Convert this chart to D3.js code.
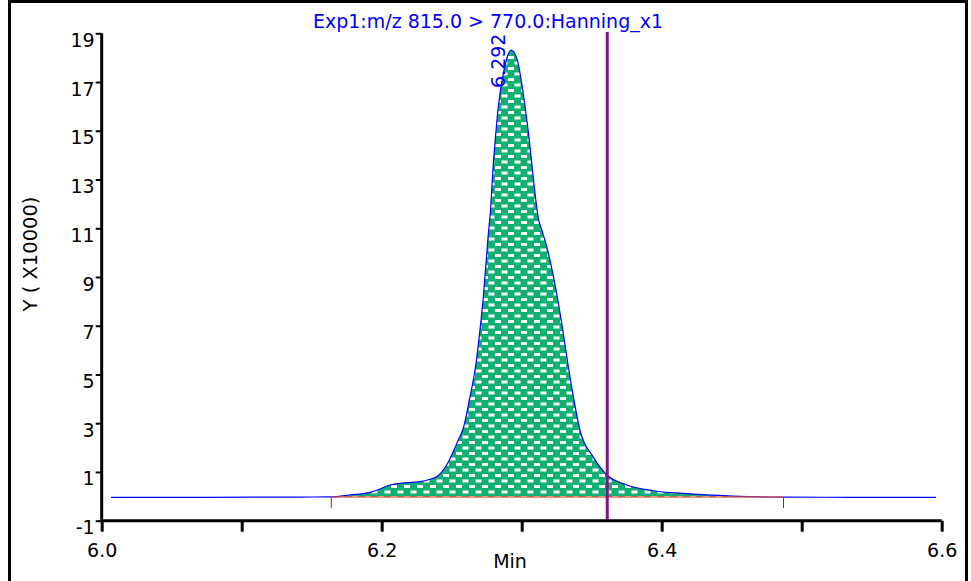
<!DOCTYPE html>
<html>
<head>
<meta charset="utf-8">
<script src="https://cdn.jsdelivr.net/npm/d3@7/dist/d3.min.js"></script>
<style>
  html, body { margin: 0; padding: 0; background: #ffffff; }
  svg { display: block; }
  text { font-family: "DejaVu Sans", sans-serif; }
</style>
</head>
<body>
<svg id="chart" width="971" height="581"></svg>
<script>
// Chromatogram trace: retention time (min) and intensity (x10000)
const times = [6.0067, 6.070, 6.142, 6.164, 6.177, 6.1916, 6.1988, 6.2059, 6.2131, 6.2274,
  6.2345, 6.2393, 6.2464, 6.2511, 6.2547, 6.2579, 6.2631, 6.2674, 6.2702, 6.2726,
  6.2745, 6.2761, 6.2779, 6.2793, 6.2811, 6.2833, 6.2869, 6.2924, 6.2969, 6.2988,
  6.3024, 6.3054, 6.3079, 6.3107, 6.3121, 6.3143, 6.3179, 6.3207, 6.3254, 6.3293,
  6.3329, 6.3369, 6.3416, 6.3509, 6.3609, 6.3752, 6.3938, 6.4152, 6.4509, 6.487,
  6.5345, 6.5959];
const intensity = [-0.04, -0.04, -0.03, -0.02, 0.055, 0.165, 0.30, 0.465, 0.535, 0.60,
  0.70, 0.805, 1.285, 1.83, 2.31, 2.72, 4.09, 5.47, 6.83, 8.19,
  9.57, 10.72, 11.88, 13.27, 14.62, 15.99, 17.36, 18.31, 17.90, 17.36,
  15.99, 14.62, 13.27, 11.88, 11.34, 10.94, 10.24, 9.56, 8.19, 6.83,
  5.47, 4.09, 2.72, 1.63, 0.875, 0.465, 0.23, 0.12, 0.01, -0.03,
  -0.04, -0.04];

// Integration window and baseline
const peakStart = 6.164;
const peakEnd = 6.487;
const baselineValue = -0.03;
const apexTime = 6.2924;
const apexLabel = "6.292";
const markerTime = 6.3611;

// Axis ticks
const xTicks = [6.0, 6.1, 6.2, 6.3, 6.4, 6.5, 6.6];
const xTickLabels = ["6.0", "", "6.2", "", "6.4", "", "6.6"];
const yTicks = [-1, 1, 3, 5, 7, 9, 11, 13, 15, 17, 19];
const yTickLabels = ["-1", "1", "3", "5", "7", "9", "11", "13", "15", "17", "19"];

const titleText = "Exp1:m/z 815.0 > 770.0:Hanning_x1";
const xTitle = "Min";
const yTitle = "Y ( X10000)";

const svg = d3.select("#chart");

const x = d3.scaleLinear().domain([6.0, 6.6]).range([101.7, 941.7]);
const y = d3.scaleLinear().domain([-1, 19]).range([520.7, 33.3]);

const pts = times.map((t, i) => ({ t, v: intensity[i] }));

// Fill pattern: green with white dashes
const defs = svg.append("defs");
const pat = defs.append("pattern")
  .attr("id", "dash")
  .attr("patternUnits", "userSpaceOnUse")
  .attr("width", 13).attr("height", 11);
pat.append("rect").attr("width", 13).attr("height", 11).attr("fill", "#10b070");
pat.append("rect").attr("x", 1).attr("y", 1).attr("width", 6).attr("height", 3).attr("fill", "#ffffff");
pat.append("rect").attr("x", 7.5).attr("y", 6.5).attr("width", 6).attr("height", 3).attr("fill", "#ffffff");
pat.append("rect").attr("x", -5.5).attr("y", 6.5).attr("width", 6).attr("height", 3).attr("fill", "#ffffff");

// Outer frame
svg.append("rect")
  .attr("x", 9.5).attr("y", 1.5).attr("width", 957).attr("height", 620)
  .attr("fill", "none").attr("stroke", "#000").attr("stroke-width", 3);

// Integrated peak area
const inPeak = pts.filter(d => d.t >= peakStart && d.t <= peakEnd);
const area = d3.area()
  .x(d => x(d.t))
  .y0(y(baselineValue))
  .y1(d => y(d.v))
  .curve(d3.curveMonotoneX);
svg.append("path").datum(inPeak)
  .attr("d", area)
  .attr("fill", "url(#dash)");

// Trace
const line = d3.line()
  .x(d => x(d.t))
  .y(d => y(d.v))
  .curve(d3.curveMonotoneX);
svg.append("path").datum(pts)
  .attr("d", line)
  .attr("fill", "none")
  .attr("stroke", "#0000ff")
  .attr("stroke-width", 1.2);

// Baseline and integration markers
svg.append("line")
  .attr("x1", x(peakStart)).attr("x2", x(peakEnd))
  .attr("y1", y(baselineValue)).attr("y2", y(baselineValue))
  .attr("stroke", "#e8503a").attr("stroke-width", 1.5).attr("stroke-opacity", 0.85);
[peakStart, peakEnd].forEach(t => {
  svg.append("line")
    .attr("x1", x(t)).attr("x2", x(t))
    .attr("y1", y(baselineValue)).attr("y2", y(baselineValue) + 11)
    .attr("stroke", "#ff0000").attr("stroke-width", 1);
});

// Apex retention time label
svg.append("text")
  .attr("transform", `translate(${x(apexTime) - 6},88) rotate(-90)`)
  .attr("fill", "#0000ff")
  .attr("font-size", 19)
  .text(apexLabel);

// Cursor line
svg.append("line")
  .attr("x1", x(markerTime)).attr("x2", x(markerTime))
  .attr("y1", 32).attr("y2", y(-1))
  .attr("stroke", "#80128a").attr("stroke-width", 3);

// X axis
const xAxis = d3.axisBottom(x)
  .tickValues(xTicks)
  .tickSize(11)
  .tickFormat((d, i) => xTickLabels[i]);
const gx = svg.append("g").attr("transform", `translate(0,${y(-1)})`).call(xAxis);
gx.select(".domain").attr("d", `M${x(6.0)},0H${x(6.6)}`).attr("stroke", "#000").attr("stroke-width", 3);
gx.selectAll(".tick line").attr("stroke", "#000").attr("stroke-width", 3);
gx.selectAll(".tick text")
  .attr("font-family", "DejaVu Sans, sans-serif")
  .attr("font-size", 19).attr("fill", "#000")
  .attr("y", 36).attr("dy", 0);

// Y axis
const yAxis = d3.axisLeft(y)
  .tickValues(yTicks)
  .tickSize(6)
  .tickPadding(0)
  .tickFormat((d, i) => yTickLabels[i]);
const gy = svg.append("g").attr("transform", `translate(${x(6.0)},0)`).call(yAxis);
gy.select(".domain").attr("d", `M0,${y(19)}V${y(-1)}`).attr("stroke", "#000").attr("stroke-width", 3);
gy.selectAll(".tick line").attr("stroke", "#000").attr("stroke-width", 2);
gy.selectAll(".tick text")
  .attr("font-family", "DejaVu Sans, sans-serif")
  .attr("font-size", 19).attr("fill", "#000")
  .attr("x", -7).attr("dy", 0).attr("y", 13);

// Titles
svg.append("text")
  .attr("x", 488).attr("y", 28)
  .attr("text-anchor", "middle")
  .attr("fill", "#0000ff")
  .attr("font-size", 19)
  .text(titleText);

svg.append("text")
  .attr("x", 510).attr("y", 568)
  .attr("text-anchor", "middle")
  .attr("fill", "#000")
  .attr("font-size", 19)
  .text(xTitle);

svg.append("text")
  .attr("transform", "translate(37,254) rotate(-90)")
  .attr("text-anchor", "middle")
  .attr("fill", "#000")
  .attr("font-size", 19.5)
  .text(yTitle);
</script>
</body>
</html>
